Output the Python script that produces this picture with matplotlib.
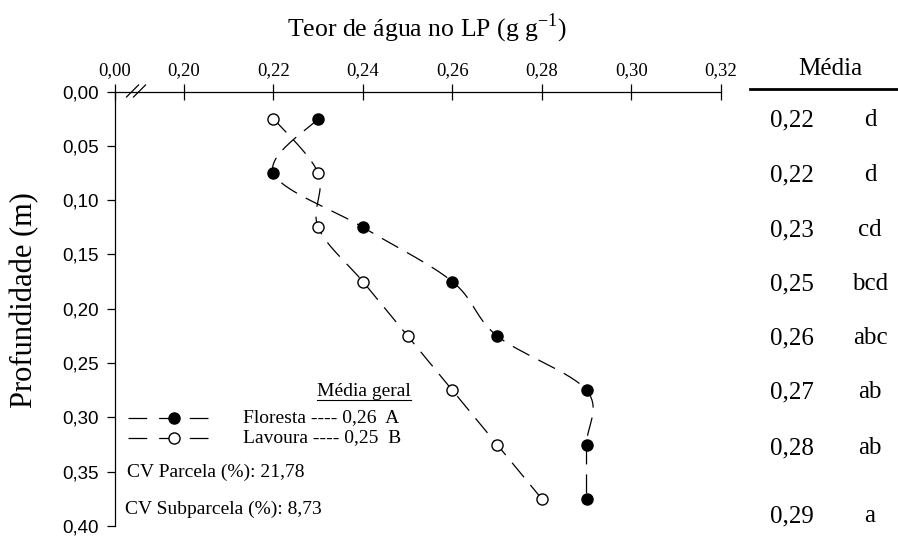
import numpy as np
import matplotlib.pyplot as plt

# depth of each sampled layer (m) and water content at the plastic limit (g/g)
profundidade = [0.025, 0.075, 0.125, 0.175, 0.225, 0.275, 0.325, 0.375]
floresta = [0.23, 0.22, 0.24, 0.26, 0.27, 0.29, 0.29, 0.29]
lavoura = [0.22, 0.23, 0.23, 0.24, 0.25, 0.26, 0.27, 0.28]

# layer means and Tukey letters shown on the right
media_camada = ['0,22', '0,22', '0,23', '0,25', '0,26', '0,27', '0,28', '0,29']
letras = ['d', 'd', 'cd', 'bcd', 'abc', 'ab', 'ab', 'a']

x_ticks = [0.20, 0.22, 0.24, 0.26, 0.28, 0.30, 0.32]
y_ticks = [0.00, 0.05, 0.10, 0.15, 0.20, 0.25, 0.30, 0.35, 0.40]

SERIF = 'Liberation Serif'
SANS = 'Liberation Sans'

# the 0,00 position sits before the axis break
X_ZERO = 0.20 - 0.02 * 69 / 89.5


def suave(x, y, n=30):
    # Catmull-Rom curve through the points (spline line)
    px = np.array([x[0]] + list(x) + [x[-1]], dtype=float)
    py = np.array([y[0]] + list(y) + [y[-1]], dtype=float)
    xs, ys = [], []
    t = np.linspace(0, 1, n)
    for i in range(1, len(px) - 2):
        for p, out in ((px, xs), (py, ys)):
            p0, p1, p2, p3 = p[i - 1], p[i], p[i + 1], p[i + 2]
            out.extend(0.5 * ((2 * p1) + (-p0 + p2) * t
                              + (2 * p0 - 5 * p1 + 4 * p2 - p3) * t ** 2
                              + (-p0 + 3 * p1 - 3 * p2 + p3) * t ** 3))
    return xs, ys


fig = plt.figure(figsize=(8.98, 5.40), dpi=100)
AX_L, AX_R, AX_T, AX_B = 115, 720.7, 91.5, 526
ax = fig.add_axes([AX_L / 898, 1 - AX_B / 540,
                   (AX_R - AX_L) / 898, (AX_B - AX_T) / 540])
W, H = AX_R - AX_L, AX_B - AX_T

dash = (15, 8)
for valores, face in ((floresta, 'black'), (lavoura, 'white')):
    sx, sy = suave(valores, profundidade)
    ax.plot(sx, sy, color='black', lw=0.9, dashes=dash, zorder=2)
    ax.plot(valores, profundidade, 'o', ms=8, mfc=face, mec='black',
            mew=1.0, zorder=3)

ax.set_xlim(X_ZERO, 0.32)
ax.set_ylim(0.40, 0.00)
ax.xaxis.tick_top()
ax.set_xticks([X_ZERO] + x_ticks)
ax.set_xticklabels(['0,00'] + [f'{v:.2f}'.replace('.', ',') for v in x_ticks],
                   fontfamily=SERIF, fontsize=13.5)
ax.set_yticks(y_ticks)
ax.set_yticklabels([f'{v:.2f}'.replace('.', ',') for v in y_ticks],
                   fontfamily=SANS, fontsize=13.5)
ax.tick_params(axis='x', direction='inout', length=12, width=0.9, pad=3,
               colors='black')
ax.tick_params(axis='y', direction='out', length=5.5, width=0.9, pad=6)
for s in ('right', 'bottom'):
    ax.spines[s].set_visible(False)
for s in ('left', 'top'):
    ax.spines[s].set_linewidth(0.9)

# axis break marks
for x0 in (126.5, 133.5):
    ax.plot([(x0 - AX_L) / W, (x0 + 12 - AX_L) / W], [1 - 5.5 / H, 1 + 6.5 / H],
            transform=ax.transAxes, color='black', lw=0.9, clip_on=False)

fig.text(25 / 898, 1 - 300 / 540, 'Profundidade (m)', rotation=90,
         ha='center', va='center', fontfamily=SERIF, fontsize=22)
fig.text(427 / 898, 1 - 28 / 540, 'Teor de água no LP (g g$^{\\mathregular{-1}}$)',
         ha='center', va='center', fontfamily=SERIF, fontsize=18.5)


def ax_xy(xp, yp):
    return (xp - AX_L) / W, (AX_B - yp) / H


# legend drawn by hand
for yp, face, nome, med in ((418, 'black', 'Floresta', '0,26  A'),
                            (438, 'white', 'Lavoura', '0,25  B')):
    x0, yy = ax_xy(128, yp)
    x1, _ = ax_xy(212, yp)
    xm, _ = ax_xy(174, yp)
    xt, _ = ax_xy(243, yp)
    ax.plot([x0, x1], [yy, yy], transform=ax.transAxes, color='black',
            lw=0.9, dashes=(15, 9.5))
    ax.plot([xm], [yy], 'o', transform=ax.transAxes, ms=8, mfc=face,
            mec='black', mew=1.0)
    ax.text(xt, yy, f'{nome} ---- {med}', transform=ax.transAxes,
            va='center', ha='left', fontfamily=SERIF, fontsize=14)
tx, ty = ax_xy(364, 391)
tit = ax.text(tx, ty, 'Média geral', transform=ax.transAxes,
              ha='center', va='center', fontfamily=SERIF, fontsize=14)
fig.canvas.draw()
bb = tit.get_window_extent().transformed(ax.transAxes.inverted())
uy = ax_xy(0, 400)[1]
ax.plot([bb.x0, bb.x1], [uy, uy], transform=ax.transAxes,
        color='black', lw=0.8)
cx, cy = ax_xy(127, 472)
ax.text(cx, cy, 'CV Parcela (%): 21,78', transform=ax.transAxes,
        va='center', fontfamily=SERIF, fontsize=14)
cx, cy = ax_xy(125, 509)
ax.text(cx, cy, 'CV Subparcela (%): 8,73', transform=ax.transAxes,
        va='center', fontfamily=SERIF, fontsize=14)

# right-hand column of layer means
fig.text(830 / 898, 1 - 69 / 540, 'Média', ha='center', va='center',
         fontfamily=SERIF, fontsize=18)
fig.add_artist(plt.Line2D([750 / 898, 1.0], [1 - 89 / 540, 1 - 89 / 540],
                          color='black', lw=2.0))
linhas_y = [120, 175, 230, 284, 338, 392, 448, 516]
for yp, m, l in zip(linhas_y, media_camada, letras):
    fig.text(792 / 898, 1 - yp / 540, m, ha='center', va='center',
             fontfamily=SERIF, fontsize=18)
    fig.text(870 / 898, 1 - yp / 540, l, ha='center', va='center',
             fontfamily=SERIF, fontsize=18)

fig.savefig('out.png', dpi=100)
